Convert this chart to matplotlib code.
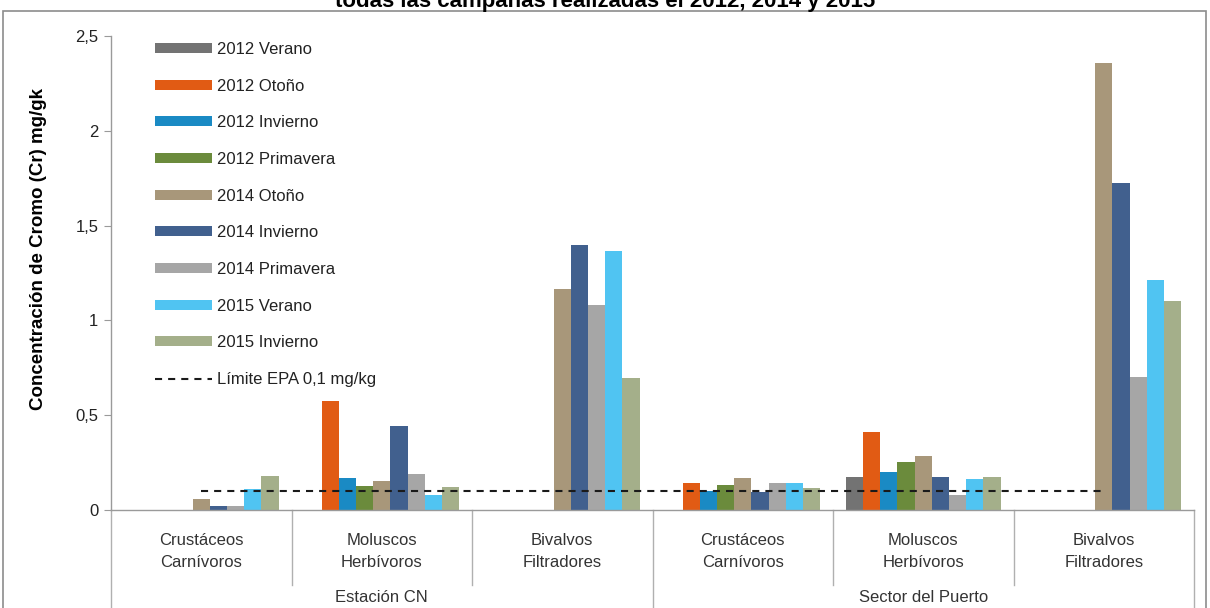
import numpy as np
import matplotlib
matplotlib.use("Agg")
import matplotlib.pyplot as plt
from matplotlib.patches import Rectangle
from matplotlib.lines import Line2D
import matplotlib.transforms as mtransforms

plt.rcParams['font.family'] = ['Liberation Sans', 'DejaVu Sans']

categories = ["Crustáceos\nCarnívoros", "Moluscos\nHerbívoros", "Bivalvos\nFiltradores",
              "Crustáceos\nCarnívoros", "Moluscos\nHerbívoros", "Bivalvos\nFiltradores"]
stations = ["Estación CN", "Sector del Puerto"]
series_names = ["2012 Verano", "2012 Otoño", "2012 Invierno", "2012 Primavera",
                "2014 Otoño", "2014 Invierno", "2014 Primavera", "2015 Verano", "2015 Invierno"]
nan = np.nan
v2012_verano    = [nan, nan,   nan,   nan,   0.174, nan]
v2012_otono     = [nan, 0.577, nan,   0.141, 0.413, nan]
v2012_invierno  = [nan, 0.170, nan,   0.100, 0.200, nan]
v2012_primavera = [nan, 0.128, nan,   0.132, 0.255, nan]
v2014_otono     = [0.058, 0.153, 1.166, 0.170, 0.286, 2.360]
v2014_invierno  = [0.023, 0.443, 1.398, 0.097, 0.174, 1.726]
v2014_primavera = [0.021, 0.188, 1.081, 0.141, 0.079, 0.700]
v2015_verano    = [0.109, 0.079, 1.366, 0.141, 0.162, 1.213]
v2015_invierno  = [0.181, 0.123, 0.695, 0.118, 0.174, 1.102]
epa_limit = 0.1
epa_label = "Límite EPA 0,1 mg/kg"
yticks = [0, 0.5, 1, 1.5, 2, 2.5]
ytick_labels = ["0", "0,5", "1", "1,5", "2", "2,5"]
ylabel = "Concentración de Cromo (Cr) mg/gk"
title = "todas las campañas realizadas el 2012, 2014 y 2015"

series_values = [v2012_verano, v2012_otono, v2012_invierno, v2012_primavera,
                 v2014_otono, v2014_invierno, v2014_primavera, v2015_verano, v2015_invierno]
colors = ["#737373", "#E15B14", "#1A8AC4", "#6B8B3C", "#A8977A",
          "#41608E", "#A6A6A6", "#50C4F2", "#A4AF8A"]

W, H = 1210, 608
fig = plt.figure(figsize=(W/100, H/100), dpi=100)
ax = fig.add_axes([111/W, 1-510/H, (1194-111)/W, (510-36)/H])

x = np.arange(len(categories))
bw = 0.0953
n = len(series_values)
handles = []
for i, (vals, c, name) in enumerate(zip(series_values, colors, series_names)):
    h = ax.bar(x + (i - (n-1)/2)*bw, vals, width=bw, color=c, linewidth=0, label=name)
    handles.append(h)

line, = ax.plot([x[0], x[-1]], [epa_limit, epa_limit], color="#1a1a1a", lw=1.5,
                dashes=(3.4, 2.9), label=epa_label)
handles.append(line)

ax.set_xlim(-0.5, len(categories)-0.5)
ax.set_ylim(0, 2.5)
ax.set_yticks(yticks)
ax.set_yticklabels(ytick_labels, fontsize=12, color="#222222")
ax.set_xticks([])
ax.tick_params(axis='y', length=5, color="#9a9a9a", pad=4)
for s in ['top', 'right']:
    ax.spines[s].set_visible(False)
for s in ['left', 'bottom']:
    ax.spines[s].set_color("#9a9a9a")
    ax.spines[s].set_linewidth(1)

ax.set_ylabel(ylabel, fontsize=13.5, fontweight='bold', labelpad=12)
ax.yaxis.set_label_coords(-0.059, 0.55)

trans = mtransforms.blended_transform_factory(ax.transData, ax.transAxes)
# category labels
for xi, lab in zip(x, categories):
    ax.text(xi, -0.087, lab, transform=trans, ha='center', va='center',
            fontsize=12, color="#333333", linespacing=1.55)
# station labels
for k, st in enumerate(stations):
    ax.text(1 + 3*k, -0.185, st, transform=trans, ha='center', va='center',
            fontsize=12, color="#333333")
# separators
for b in [0.5, 1.5, 3.5, 4.5]:
    ax.add_line(Line2D([b, b], [0, -0.158], transform=trans, color="#b0b0b0", lw=1, clip_on=False))
for b in [-0.5, 2.5, 5.5]:
    ax.add_line(Line2D([b, b], [0, -0.3], transform=trans, color="#b0b0b0", lw=1, clip_on=False))

leg = ax.legend(handles=handles, labels=series_names + [epa_label],
                loc='upper left', bbox_to_anchor=(155/W, 1-42/H), bbox_transform=fig.transFigure,
                frameon=False, fontsize=12, handlelength=3.4, handleheight=0.55,
                handletextpad=0.3, labelspacing=1.3, borderpad=0, borderaxespad=0)
for t in leg.get_texts():
    t.set_color("#222222")

# outer chart border
fig.add_artist(Rectangle((3/W, -0.01), (1206-3)/W, 1-11/H+0.01, transform=fig.transFigure,
                         fill=False, edgecolor="#8c8c8c", lw=1.2))
fig.text(605/W, 1-7/H, title, ha='center', va='baseline', fontsize=16, fontweight='bold')

fig.savefig("out.png", dpi=100)
